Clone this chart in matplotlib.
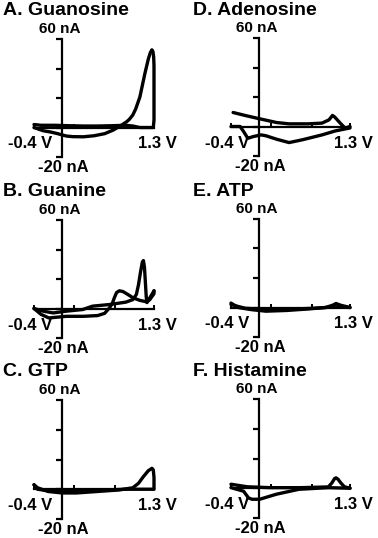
import matplotlib
matplotlib.use("Agg")
import matplotlib.pyplot as plt

plt.rcParams['font.family'] = ['Liberation Sans', 'DejaVu Sans']

titles = ["A. Guanosine", "B. Guanine", "C. GTP", "D. Adenosine", "E. ATP", "F. Histamine"]
y_top_label = "60 nA"
y_bot_label = "-20 nA"
x_left_label = "-0.4 V"
x_right_label = "1.3 V"
y_ticks = [-20, 0, 20, 40, 60]
x_ticks = [-0.4, 0.17, 0.75, 1.3]

# Guanosine
a_fwd_v = [-0.4, -0.3, -0.1, 0.1, 0.3, 0.5, 0.7, 0.9, 1.0, 1.1, 1.2, 1.29, 1.3, 1.3, 1.3, 1.295, 1.285, 1.27]
a_fwd_i = [2, 1.5, 1.5, 1.2, 1, 1, 1.2, 1.5, 1, 0, 0, 0, 5, 25, 42, 48, 51.5, 52.5]
a_rev_v = [1.27, 1.25, 1.22, 1.17, 1.10, 1.04, 1.0, 0.95, 0.91, 0.82, 0.72, 0.6, 0.45, 0.30, 0.15, 0.06, -0.08, -0.17, -0.27, -0.36, -0.4]
a_rev_i = [52.5, 51, 46.5, 36.4, 20.7, 12.5, 8.5, 5.5, 3.8, 1, -1.8, -4.2, -5.6, -6.3, -6.2, -5.8, -4, -3, -2.2, -0.7, 0]

# Guanine
b_fwd_v = [-0.4, -0.27, -0.13, 0.06, 0.29, 0.43, 0.67, 0.9, 1.0, 1.05, 1.08, 1.11, 1.135, 1.15, 1.165, 1.18, 1.19, 1.2, 1.25, 1.3]
b_fwd_i = [0, -1.8, -3, -1.8, -0.7, 1.6, 2.7, 4.3, 6, 9.5, 16, 25, 31.5, 32.5, 28, 16, 8, 4, 8, 12]
b_rev_v = [1.3, 1.3, 1.24, 1.2, 1.1, 1.0, 0.93, 0.86, 0.81, 0.77, 0.74, 0.71, 0.67, 0.6, 0.5, 0.3, 0.06, -0.19, -0.3, -0.4]
b_rev_i = [12, 10, 6, 4.5, 5.5, 7.3, 9.5, 11.5, 12, 10.8, 7.5, 3.5, 0.5, -3.3, -4.8, -5.3, -5.3, -6.4, -4, 0]

# GTP
c_fwd_v = [-0.4, -0.35, -0.2, 0.0, 0.3, 0.6, 0.9, 1.2, 1.3, 1.3, 1.29, 1.27]
c_fwd_i = [3, 0, -1, -1.5, -1, -0.5, 0, 0, 0, 8, 13, 14]
c_rev_v = [1.27, 1.22, 1.15, 1.08, 1.0, 0.8, 0.5, 0.2, 0.0, -0.2, -0.35, -0.4]
c_rev_i = [14, 12.5, 8.5, 4, 1, -0.5, -1.5, -2.5, -2.5, -1.5, 1, 3]

# Adenosine
d_fwd_v = [-0.4, -0.27, -0.22, -0.16, -0.08, 0.03, 0.1, 0.25, 0.43, 0.62, 0.9, 1.09, 1.3]
d_fwd_i = [0, 0, -3.4, -8, -6.8, -5.7, -6.3, -8.6, -10.9, -9, -5.7, -3, -1]
d_rev_v = [1.3, 1.23, 1.16, 1.08, 1.05, 1.0, 0.9, 0.7, 0.43, 0.25, -0.035, -0.2, -0.37]
d_rev_i = [0, -1.1, 2.3, 6.5, 7.5, 4.5, 2.3, 1.8, 1.8, 2.7, 5.7, 7.5, 9.5]

# ATP
e_fwd_v = [-0.4, -0.3, -0.1, 0.1, 0.4, 0.7, 0.95, 1.05, 1.1, 1.17, 1.3]
e_fwd_i = [3, 0, -1.5, -2.5, -2, -1, 0, 1.5, 2.7, 1.5, 0]
e_rev_v = [1.3, 1.1, 0.8, 0.5, 0.2, 0.0, -0.2, -0.4]
e_rev_i = [0, 0.5, -0.5, -1, -1.2, -1, -0.5, 2]

# Histamine
f_fwd_v = [-0.4, -0.17, 0.16, 0.6, 0.99, 1.04, 1.08, 1.1, 1.13, 1.17, 1.22, 1.3]
f_fwd_i = [2.7, 1, 0.4, 0.4, 0.9, 3.5, 6.5, 7, 6, 3.5, 1, 0]
f_rev_v = [1.3, 0.99, 0.57, 0.25, 0.01, -0.1, -0.15, -0.22, -0.37, -0.4]
f_rev_i = [0, 0.4, -0.7, -4, -7.4, -7.4, -6.5, -2, 0, 0.5]

series = [
    (a_fwd_v, a_fwd_i, a_rev_v, a_rev_i),
    (b_fwd_v, b_fwd_i, b_rev_v, b_rev_i),
    (c_fwd_v, c_fwd_i, c_rev_v, c_rev_i),
    (d_fwd_v, d_fwd_i, d_rev_v, d_rev_i),
    (e_fwd_v, e_fwd_i, e_rev_v, e_rev_i),
    (f_fwd_v, f_fwd_i, f_rev_v, f_rev_i),
]

W, H = 378, 538
fig = plt.figure(figsize=(W / 100, H / 100), dpi=100)

# panel boxes in pixels: (x0, x1, ytop, ybot, title_x, title_baseline)
boxes = [
    (34, 154, 39, 157, 3, 15),
    (34, 154, 220, 338, 3, 196),
    (34, 154, 400, 519, 3, 376),
    (231, 350, 38, 156, 193, 15),
    (231, 350, 219, 337, 193, 196),
    (231, 350, 399, 518, 193, 376),
]

for (x0, x1, yt, yb, tx, ty), title, (fv, fi, rv, ri) in zip(boxes, titles, series):
    ax = fig.add_axes([x0 / W, 1 - yb / H, (x1 - x0) / W, (yb - yt) / H])
    ax.patch.set_visible(False)
    ax.set_xlim(-0.4, 1.3)
    ax.set_ylim(-20, 60)
    for s in ['top', 'right']:
        ax.spines[s].set_visible(False)
    ax.spines['left'].set_position(('data', 0))
    ax.spines['bottom'].set_position(('data', 0))
    ax.spines['left'].set_linewidth(1.6)
    ax.spines['bottom'].set_linewidth(1.6)
    ax.set_yticks(y_ticks)
    ax.set_xticks(x_ticks)
    ax.tick_params(axis='y', direction='out', length=4, width=1.6, labelleft=False)
    ax.tick_params(axis='x', direction='in', length=3, width=1.4, labelbottom=False)
    kw = dict(color='black', lw=2.4, clip_on=False, solid_capstyle='round', solid_joinstyle='round')
    ax.plot(fv, fi, **kw)
    ax.plot(rv, ri, **kw)
    tkw = dict(textcoords='offset pixels', fontweight='bold', va='baseline', ha='center')
    ax.annotate(y_top_label, xy=(0, 60), xytext=(-2, 6), fontsize=11, **tkw)
    ax.annotate(y_bot_label, xy=(0, -20), xytext=(1, -15), fontsize=12, **tkw)
    ax.annotate(x_left_label, xy=(-0.4, 0), xytext=(-4, -21), fontsize=12, **tkw)
    ax.annotate(x_right_label, xy=(1.3, 0), xytext=(3, -21), fontsize=12, **tkw)
    fig.text(tx / W, 1 - ty / H, title, fontsize=14, fontweight='bold', va='baseline', ha='left')

fig.savefig("out.png", dpi=100)
